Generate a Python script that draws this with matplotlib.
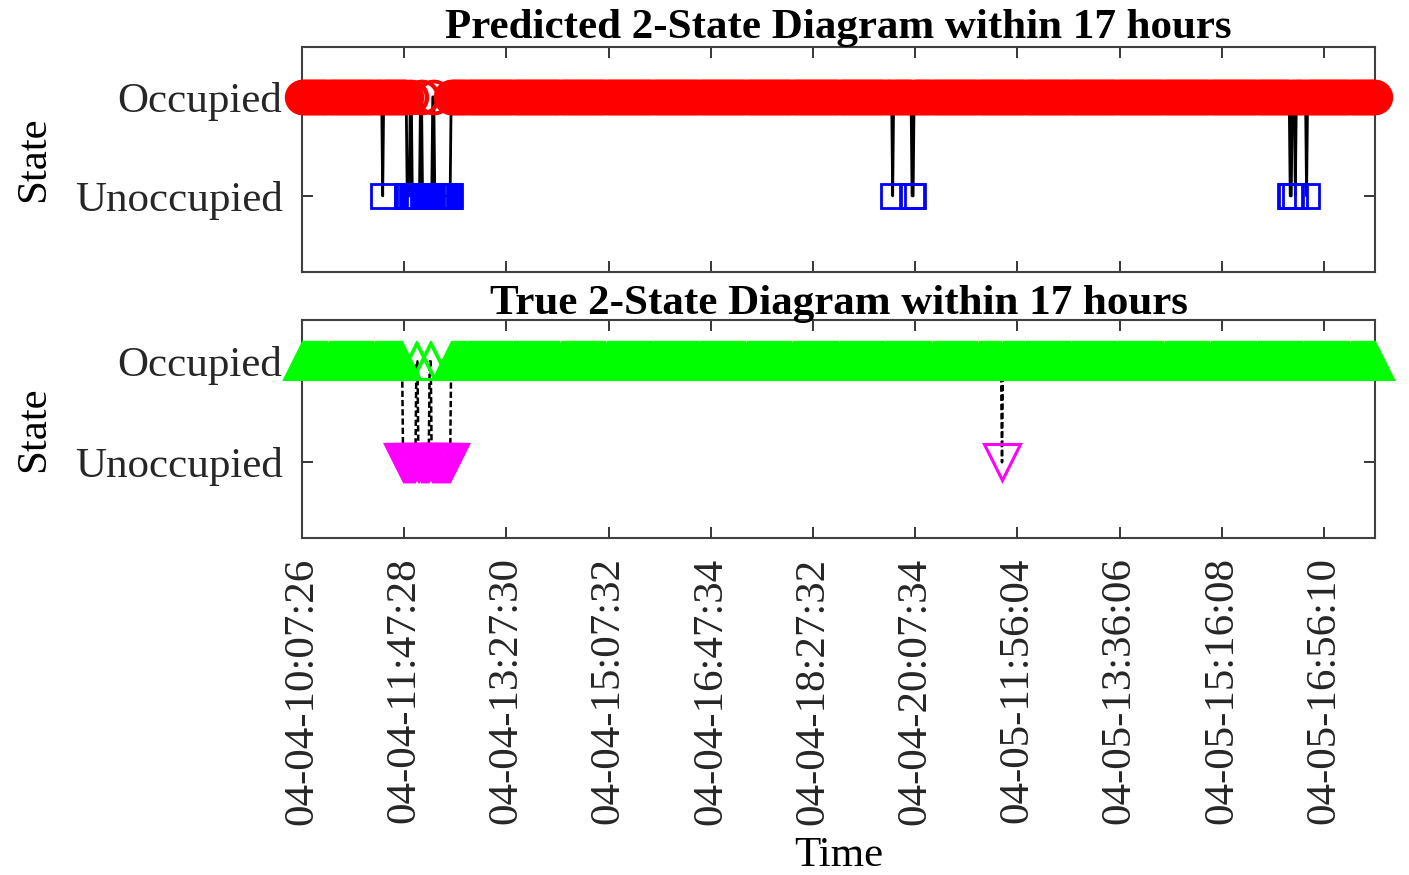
import numpy as np
import matplotlib
matplotlib.use("Agg")
import matplotlib.pyplot as plt

plt.rcParams['font.family'] = ['Liberation Serif', 'DejaVu Serif']

# samples are one per minute, indexed from 0
n_samples = 1051
tick_pos = [0, 100, 200, 300, 400, 500, 600, 700, 800, 900, 1000]
tick_labels = ['04-04-10:07:26', '04-04-11:47:28', '04-04-13:27:30', '04-04-15:07:32',
               '04-04-16:47:34', '04-04-18:27:32', '04-04-20:07:34', '04-05-11:56:04',
               '04-05-13:36:06', '04-05-15:16:08', '04-05-16:56:10']
state_names = ['Unoccupied', 'Occupied']

# runs of "Unoccupied" samples (first, last index), everything else is occupied
pred_unocc_runs = [(79, 79), (103, 105), (108, 115), (118, 127), (130, 145),
                   (578, 578), (597, 598), (967, 968), (972, 972), (983, 983)]
true_unocc_runs = [(99, 111), (114, 124), (127, 145), (685, 685)]


def build_state(runs):
    s = np.ones(n_samples)
    for a, b in runs:
        s[a:b + 1] = 0
    return s


x = np.arange(n_samples)
pred = build_state(pred_unocc_runs)
true = build_state(true_unocc_runs)

fig = plt.figure(figsize=(14.09, 8.75), dpi=100)
ax1 = fig.add_axes([0.2143, 0.6891, 0.7616, 0.2572])
ax2 = fig.add_axes([0.2143, 0.3851, 0.7616, 0.2492])

# predicted
ax1.plot(x, pred, color='black', lw=2, zorder=1)
ax1.plot(x[pred == 0], pred[pred == 0], 's', ms=17, mfc='none', mec='blue', mew=2, zorder=2)
ax1.plot(x[pred == 1], pred[pred == 1], 'o', ms=23, mfc='none', mec='red', mew=2.5, zorder=3,
         clip_on=False)
ax1.set_ylim(-0.77, 1.505)
ax1.set_title('Predicted 2-State Diagram within 17 hours', fontsize=31, fontweight='bold', pad=3)

# true
ax2.plot(x, true, color='black', lw=1.8, ls=(0, (2.5, 1.2)), zorder=1)
ax2.plot(x[true == 0], true[true == 0], 'v', ms=26, mfc='none', mec='magenta', mew=2.2, zorder=2)
ax2.plot(x[true == 1], true[true == 1], '^', ms=26, mfc='none', mec='#00ff00', mew=2, zorder=3,
         clip_on=False)
ax2.set_ylim(-0.75, 1.41)
ax2.set_title('True 2-State Diagram within 17 hours', fontsize=31, fontweight='bold', pad=4)

for ax in (ax1, ax2):
    ax.set_xlim(0, 1050)
    ax.set_xticks(tick_pos)
    ax.set_yticks([0, 1])
    ax.set_yticklabels(state_names)
    ax.tick_params(direction='in', length=8, width=1.3, top=True, right=True,
                   labelsize=31, pad=14, colors='0.15')
    for sp in ax.spines.values():
        sp.set_linewidth(1.5)
        sp.set_color('0.25')
    ax.set_ylabel('State', fontsize=31)
    ax.yaxis.set_label_coords(-0.232, 0.5)

ax1.tick_params(labelbottom=False)
ax2.set_xticklabels(tick_labels, rotation=90)
ax2.set_xlabel('Time', fontsize=31)
ax2.xaxis.set_label_coords(0.5, -1.37)

fig.savefig('out.png', dpi=100, facecolor='white')
